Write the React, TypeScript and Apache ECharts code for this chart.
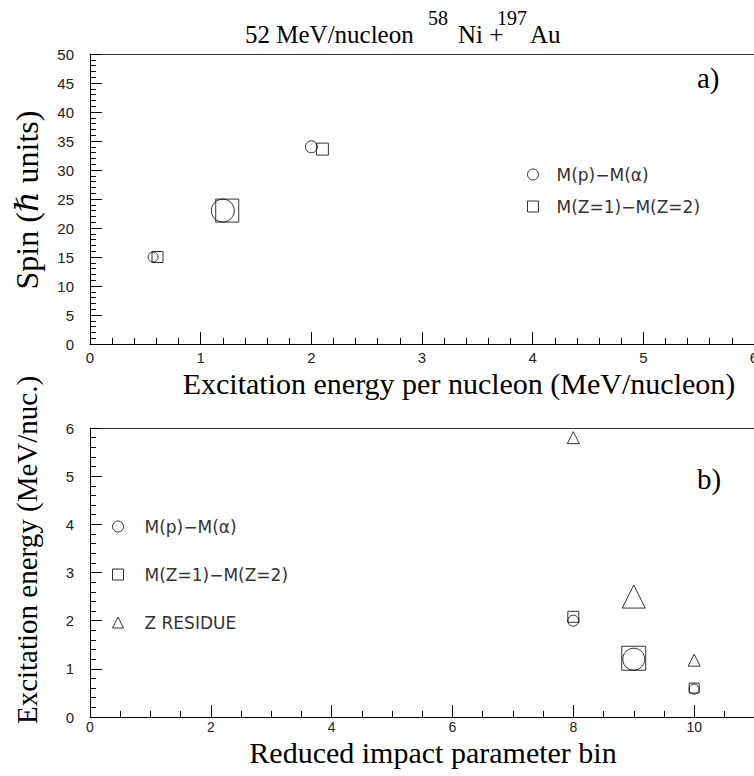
import React, { useEffect, useRef } from "react";
import * as echarts from "echarts";

// ---------- data ----------
const NAME_P = "M(p)\u2212M(\u03B1)";
const NAME_Z = "M(Z=1)\u2212M(Z=2)";
const NAME_R = "Z RESIDUE";

// panel a) : excitation energy per nucleon vs spin
const aCircleE = [0.57, 1.2, 2.0];
const aCircleSpin = [15, 23, 34];
const aSquareE = [0.61, 1.24, 2.1];
const aSquareSpin = [15, 23, 33.6];

// panel b) : reduced impact parameter bin vs excitation energy
const bBins = [8, 9, 10];
const bCircleE = [2.0, 1.2, 0.58];
const bSquareE = [2.08, 1.22, 0.6];
const bResidueE = [5.8, 2.5, 1.18];

// marker sizes (statistical weight shown by symbol size)
const aCircleSize = [10, 23, 12];
const aSquareSize = [11, 23, 12];
const bCircleSize = [11, 22, 10];
const bSquareSize = [11, 24, 10];
const bResidueSize = [12, 23, 12];

const SANS = '"Liberation Sans", Arial, sans-serif';
const SERIF = '"Liberation Serif", "DejaVu Serif", serif';
const LEG = '"DejaVu Sans", sans-serif';

const hollow = { color: "rgba(0,0,0,0)", borderColor: "#000", borderWidth: 1 };

function xAxisMain(grid: number, max: number, interval: number, minorSplit: number, margin: number, fontSize: number) {
  return {
    type: "value",
    gridIndex: grid,
    position: "bottom",
    min: 0,
    max,
    interval,
    axisLine: { show: true, onZero: false, lineStyle: { color: "#000", width: 1 } },
    axisTick: { show: true, inside: true, length: 12, lineStyle: { color: "#000", width: 1 } },
    minorTick: { show: true, splitNumber: minorSplit, length: 6, lineStyle: { color: "#000", width: 1 } },
    axisLabel: { margin, fontFamily: SANS, fontSize, color: "#222", showMaxLabel: grid === 0 },
    splitLine: { show: false },
  };
}
function xAxisTop(grid: number, max: number) {
  return {
    type: "value",
    gridIndex: grid,
    position: "top",
    min: 0,
    max,
    axisLine: { show: true, onZero: false, lineStyle: { color: "#333", width: 1 } },
    axisTick: { show: false },
    axisLabel: { show: false },
    splitLine: { show: false },
  };
}
function yAxisMain(grid: number, max: number, interval: number, minorSplit: number) {
  return {
    type: "value",
    gridIndex: grid,
    min: 0,
    max,
    interval,
    axisLine: { show: true, onZero: false, lineStyle: { color: "#000", width: 1 } },
    axisTick: { show: true, inside: true, length: 12, lineStyle: { color: "#000", width: 1 } },
    minorTick: { show: true, splitNumber: minorSplit, length: 6, lineStyle: { color: "#000", width: 1 } },
    axisLabel: { margin: 16, fontFamily: SANS, fontSize: 15, color: "#222" },
    splitLine: { show: false },
  };
}

function pts(xs: number[], ys: number[], sizes: number[]) {
  return xs.map((x, i) => ({ value: [x, ys[i]], symbolSize: sizes[i] }));
}

function txt(text: string, x: number, y: number, size: number, family: string, align = "left", rotation = 0) {
  return {
    type: "text",
    x,
    y,
    rotation,
    style: {
      text,
      fontSize: size,
      fontFamily: family,
      fill: "#000",
      align,
      textAlign: align,
      verticalAlign: "middle",
      textVerticalAlign: "middle",
    },
  };
}

function legendBox(left: number, top: number, gap: number, textPad: number, data: any[]) {
  return {
    orient: "vertical",
    left,
    top,
    padding: 0,
    itemWidth: 11,
    itemHeight: 11,
    itemGap: gap,
    selectedMode: false,
    itemStyle: hollow,
    textStyle: { fontFamily: LEG, fontSize: 17, color: "#333", padding: [0, 0, 0, textPad] },
    data,
  };
}

export default function App() {
  const ref = useRef<HTMLDivElement>(null);
  useEffect(() => {
    if (!ref.current) return;
    const chart = echarts.init(ref.current, undefined, { renderer: "svg" });
    const option: any = {
      animation: false,
      backgroundColor: "#fff",
      grid: [
        { left: 90, top: 54, width: 664, height: 290, outerBoundsMode: "none", containLabel: false },
        { left: 90, top: 428, width: 725, height: 289, outerBoundsMode: "none", containLabel: false },
      ],
      xAxis: [
        xAxisMain(0, 6, 1, 5, 6, 15),
        xAxisTop(0, 6),
        xAxisMain(1, 12, 2, 4, 3, 14),
        xAxisTop(1, 12),
      ],
      yAxis: [yAxisMain(0, 50, 5, 5), yAxisMain(1, 6, 1, 5)],
      legend: [
        legendBox(527, 166, 15, 13, [
          { name: NAME_P, icon: "circle" },
          { name: NAME_Z, icon: "rect" },
        ]),
        legendBox(112, 518, 31, 16, [
          { name: NAME_P, icon: "circle" },
          { name: NAME_Z, icon: "rect" },
          { name: NAME_R, icon: "triangle" },
        ]),
      ],
      series: [
        {
          name: NAME_P, type: "scatter", xAxisIndex: 0, yAxisIndex: 0,
          symbol: "circle", itemStyle: hollow, data: pts(aCircleE, aCircleSpin, aCircleSize),
        },
        {
          name: NAME_Z, type: "scatter", xAxisIndex: 0, yAxisIndex: 0,
          symbol: "rect", itemStyle: hollow, data: pts(aSquareE, aSquareSpin, aSquareSize),
        },
        {
          name: NAME_P, type: "scatter", xAxisIndex: 2, yAxisIndex: 1,
          symbol: "circle", itemStyle: hollow, data: pts(bBins, bCircleE, bCircleSize),
        },
        {
          name: NAME_Z, type: "scatter", xAxisIndex: 2, yAxisIndex: 1,
          symbol: "rect", itemStyle: hollow, data: pts(bBins, bSquareE, bSquareSize),
        },
        {
          name: NAME_R, type: "scatter", xAxisIndex: 2, yAxisIndex: 1,
          symbol: "triangle", itemStyle: hollow, data: pts(bBins, bResidueE, bResidueSize),
        },
      ],
      graphic: [
        txt("52 MeV/nucleon", 245, 34, 25, SERIF),
        txt("58", 428, 18, 20, SERIF),
        txt("Ni +", 458, 34, 25, SERIF),
        txt("197", 497, 18, 20, SERIF),
        txt("Au", 530, 34, 25, SERIF),
        txt("a)", 697, 78, 29, SERIF),
        txt("b)", 697, 479, 29, SERIF),
        txt("Spin (\u210F units)", 27, 200, 32, SERIF, "center", Math.PI / 2),
        txt("Excitation energy (MeV/nuc.)", 27, 550, 29, SERIF, "center", Math.PI / 2),
        txt("Excitation energy per nucleon (MeV/nucleon)", 459, 383, 30, SERIF, "center"),
        txt("Reduced impact parameter bin", 433, 752, 30, SERIF, "center"),
      ],
    };
    chart.setOption(option);
    return () => chart.dispose();
  }, []);
  return (
    <div
      ref={ref}
      style={{ position: "fixed", left: 0, top: 0, width: 754, height: 776, background: "#fff" }}
    />
  );
}
